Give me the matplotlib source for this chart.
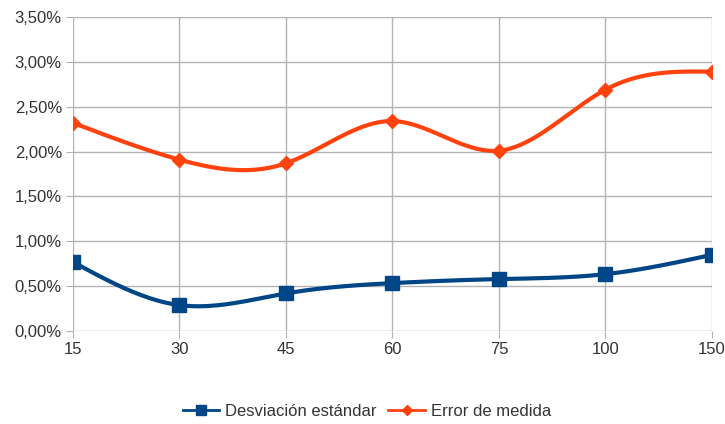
import numpy as np
import matplotlib
matplotlib.use("Agg")
import matplotlib.pyplot as plt
from matplotlib.ticker import FuncFormatter

categories = ["15", "30", "45", "60", "75", "100", "150"]
desviacion = [0.77, 0.29, 0.42, 0.535, 0.58, 0.635, 0.85]
error_medida = [2.32, 1.91, 1.87, 2.34, 2.01, 2.69, 2.89]
y_ticks = [0, 0.5, 1.0, 1.5, 2.0, 2.5, 3.0, 3.5]


def natural_spline(x, y, n=40):
    # natural cubic spline through the points, sampled n times per segment
    x = np.asarray(x, float)
    y = np.asarray(y, float)
    k = len(x)
    h = np.diff(x)
    A = np.zeros((k, k))
    b = np.zeros(k)
    A[0, 0] = A[-1, -1] = 1
    for i in range(1, k - 1):
        A[i, i - 1] = h[i - 1]
        A[i, i] = 2 * (h[i - 1] + h[i])
        A[i, i + 1] = h[i]
        b[i] = 6 * ((y[i + 1] - y[i]) / h[i] - (y[i] - y[i - 1]) / h[i - 1])
    M = np.linalg.solve(A, b)
    xs, ys = [], []
    for i in range(k - 1):
        t = np.linspace(x[i], x[i + 1], n)
        a = x[i + 1] - t
        c = t - x[i]
        s = (M[i] * a ** 3 + M[i + 1] * c ** 3) / (6 * h[i]) \
            + (y[i] / h[i] - M[i] * h[i] / 6) * a \
            + (y[i + 1] / h[i] - M[i + 1] * h[i] / 6) * c
        xs.append(t)
        ys.append(s)
    return np.concatenate(xs), np.concatenate(ys)


plt.rcParams["font.family"] = ["Liberation Sans", "DejaVu Sans"]

fig = plt.figure(figsize=(7.25, 4.24), dpi=100)
ax = fig.add_axes([0.1007, 0.219, 0.8813, 0.741])

pos = np.arange(len(categories))
series = [
    (desviacion, "#004586", "s", 10, "Desviación estándar"),
    (error_medida, "#ff420e", "D", 7.5, "Error de medida"),
]
for vals, color, marker, ms, label in series:
    sx, sy = natural_spline(pos, vals)
    ax.plot(sx, sy, color=color, lw=3, solid_capstyle="round", zorder=3)
    ax.plot(pos, vals, ls="none", marker=marker, ms=ms, color=color, zorder=4)
    ax.plot([], [], color=color, lw=2, marker=marker, ms=ms * 0.7, label=label)

ax.set_xlim(0, len(categories) - 1)
ax.set_ylim(0, 3.5)
ax.set_xticks(pos)
ax.set_xticklabels(categories)
ax.set_yticks(y_ticks)
ax.yaxis.set_major_formatter(FuncFormatter(lambda v, p: f"{v:.2f}%".replace(".", ",")))
ax.grid(True, color="#b3b3b3", lw=1)
ax.set_axisbelow(True)
for s in ax.spines.values():
    s.set_visible(False)
ax.tick_params(length=5, color="#b3b3b3", labelcolor="#333333", labelsize=12, pad=3)

fig.legend(loc="lower center", bbox_to_anchor=(0.506, -0.024), ncol=2, frameon=False,
           fontsize=12, handlelength=2.2, handletextpad=0.35, columnspacing=0.7,
           labelcolor="#333333")

fig.savefig("out.png", dpi=100)
